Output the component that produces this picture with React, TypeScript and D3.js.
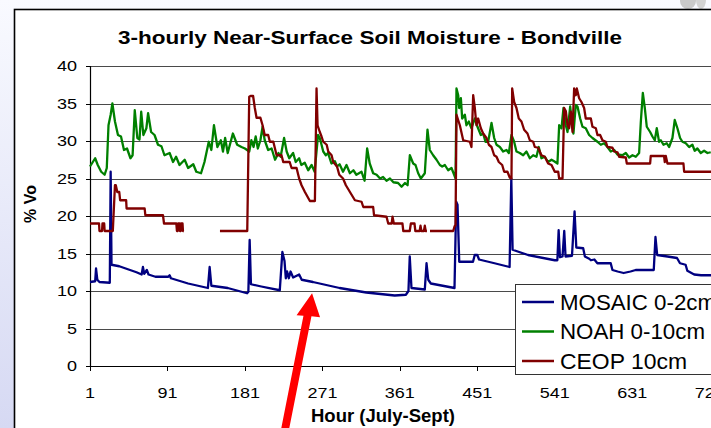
import React from 'react';
import * as d3 from 'd3';

// chart values (hour index, soil moisture %)
const hourTicks = [1, 91, 181, 271, 361, 451, 541, 631, 721];
const moistureTicks = [0, 5, 10, 15, 20, 25, 30, 35, 40];
const seriesNames = ['MOSAIC 0-2cm', 'NOAH 0-10cm', 'CEOP 10cm'];
const seriesColors = ['#000080', '#008000', '#800000'];

type Pt = [number, number | null];

const mosaic: Pt[] = [
  [1, 11.2], [7, 11.3], [8, 13.0], [9.5, 11.5], [12, 11.2], [24, 11.1], [25, 25.9], [26, 13.5],
  [35, 13.3], [45, 12.9], [55, 12.5], [61, 12.2], [62.5, 13.2], [64, 12.3], [67, 12.8], [69, 12.2],
  [77, 11.9], [92, 11.9], [93.5, 12.1], [95, 11.7], [115, 11.0], [138, 10.4], [140, 13.2], [142, 10.7],
  [161, 10.4], [183.5, 9.7], [185, 9.9], [186.5, 16.8], [188, 10.9], [200, 10.6], [221.5, 10.1],
  [224.5, 15.2], [227, 14.0], [228.5, 11.7], [230, 12.6], [232, 11.7], [234, 12.6], [237, 11.8],
  [244, 12.2], [247, 11.5], [260, 11.2], [291, 10.4], [322, 9.8], [355, 9.4], [368, 9.5], [371, 10.0],
  [372.5, 14.6], [374.5, 10.4], [390, 10.2], [392, 13.7], [394, 11.5], [397, 11.0], [424.5, 10.4],
  [426.5, 21.9], [428, 21.5], [430, 13.9], [446, 13.9], [448, 14.8], [451, 14.8], [453, 14.2],
  [471, 13.7], [488.5, 13.2], [490.5, 25.0], [492, 15.5], [510, 14.8], [541, 14.1], [544, 14.1],
  [545.5, 18.1], [547, 14.5], [550, 14.6], [552, 18.0], [553.5, 14.6], [561, 14.7], [564, 20.6],
  [566, 15.8], [574, 15.7], [576, 14.6], [581, 14.3], [583, 14.1], [587, 14.2], [590.5, 13.7],
  [606, 13.7], [608, 12.8], [614, 12.6], [621, 12.4], [629, 12.6], [635, 12.8], [656, 12.8],
  [658, 17.2], [660, 14.8], [672, 14.6], [683, 14.4], [686.5, 13.7], [693, 13.5], [695, 12.7],
  [703, 12.2], [711, 12.1], [726, 12.1],
];

const noah: Pt[] = [
  [1, 26.6], [7, 27.7], [10, 26.8], [14, 25.9], [18, 25.5], [20.5, 26.4], [22.5, 32.1], [25, 33.5],
  [27, 35.0], [30, 32.6], [33.5, 30.8], [37, 30.6], [40.5, 28.8], [44, 29.0], [48, 27.7], [50.5, 28.1],
  [53, 34.1], [56, 30.4], [58.5, 30.2], [60.5, 33.9], [63, 30.8], [66.5, 31.7], [68.5, 33.7], [72, 31.2],
  [76, 30.8], [80, 29.5], [84, 29.3], [87.5, 28.1], [93.5, 28.4], [97.5, 27.2], [101, 27.9], [105, 26.8],
  [111, 27.5], [115, 26.4], [121, 26.9], [124.5, 25.9], [130, 25.7], [134, 27.2], [139, 29.9],
  [142, 28.8], [145, 32.1], [149, 29.2], [153, 30.1], [155.5, 28.6], [158, 30.4], [161, 28.4],
  [167, 31.0], [172, 29.5], [177, 29.2], [181, 29.0], [186, 28.6], [188.5, 30.1], [191, 29.2],
  [193.5, 30.6], [196, 29.0], [199, 30.1], [201.5, 31.9], [204, 30.1], [208, 28.8], [212, 29.0],
  [216, 27.5], [220, 28.4], [222.5, 27.9], [226.5, 30.4], [229.5, 28.6], [232.5, 27.7], [237, 28.4],
  [240, 27.2], [244, 27.7], [246.5, 26.8], [250.5, 27.1], [254.5, 26.1], [258.5, 26.8], [262, 25.9],
  [266, 30.8], [268, 30.4], [272, 28.6], [275, 28.1], [277.5, 28.4], [281.5, 27.0], [285.5, 27.3],
  [288, 26.6], [291, 26.9], [295, 25.9], [299, 26.8], [303, 25.7], [307, 26.1], [310.5, 25.5],
  [316.5, 25.9], [320, 24.7], [323, 29.0], [326, 27.0], [330, 25.7], [334, 25.5], [338, 25.0],
  [341.5, 25.2], [345.5, 24.7], [349.5, 25.0], [353.5, 24.5], [359, 24.4], [363, 23.9], [367, 24.4],
  [370, 24.1], [372.6, 28.1], [376.5, 27.0], [379.2, 26.8], [382.3, 25.7], [385.4, 25.0], [390, 25.7],
  [393.1, 31.5], [395.8, 28.8], [399.7, 28.1], [403.6, 27.5], [407.5, 26.8], [410.2, 26.6],
  [413.3, 26.8], [417.1, 26.1], [421, 26.4], [424.1, 25.5], [425.7, 25.0], [426.8, 37.0],
  [428.8, 36.1], [429.9, 34.4], [431.9, 35.7], [433.4, 33.0], [436.5, 33.5], [438.4, 32.1],
  [441.1, 32.6], [444.2, 31.7], [448.1, 33.0], [451.2, 31.9], [455.1, 30.8], [457.8, 31.0],
  [460.5, 29.9], [463.6, 29.9], [467.5, 32.4], [470.6, 30.4], [473.3, 29.5], [477.2, 29.2],
  [481, 28.6], [484.9, 28.8], [487.6, 28.4], [490.7, 30.8], [493.8, 29.9], [496.5, 28.6],
  [500.4, 28.4], [504.3, 28.1], [508.1, 28.6], [512, 27.7], [515.9, 28.1], [519.7, 27.9],
  [522.4, 29.2], [525.5, 27.7], [529.4, 27.9], [533.3, 27.2], [537.2, 27.5], [540.3, 27.3],
  [544.1, 27.0], [546.1, 32.1], [548.8, 31.7], [551.1, 34.4], [553.8, 32.1], [555.8, 31.2],
  [558.9, 34.6], [560.4, 33.0], [562.7, 31.0], [565.4, 34.8], [567.4, 34.6], [570.5, 33.0],
  [573.2, 31.9], [577, 31.7], [580.9, 30.8], [584.8, 30.4], [590.6, 29.9], [594.5, 29.5],
  [598.3, 29.7], [602.2, 29.2], [606.1, 28.6], [610, 28.8], [613.8, 28.2], [619.6, 28.1],
  [623.5, 28.4], [627.4, 27.8], [631.3, 28.1], [635.1, 27.9], [639, 28.4], [641, 32.6],
  [643.3, 36.4], [645.6, 34.4], [647.9, 31.9], [651.8, 31.2], [654.5, 30.6], [657.2, 30.1],
  [659.5, 31.7], [662.2, 29.9], [664.2, 30.1], [667.3, 29.5], [671.1, 29.7], [673.8, 29.2],
  [677.7, 30.4], [680.4, 32.8], [683.5, 31.7], [686.6, 30.4], [689.3, 29.9], [693.2, 29.7],
  [697.1, 29.2], [700.9, 29.5], [703.6, 28.7], [706.7, 29.0], [710.6, 28.4], [714.5, 28.7],
  [718.4, 28.4], [722.2, 28.5],
];

const ceop: Pt[] = [
  [1, 19], [11.5, 19], [12, 18], [15, 18], [15.5, 19], [17.5, 19], [18, 18], [27.5, 18], [30, 24.1],
  [31, 24.1], [32.7, 23.2], [35, 23.2], [36, 22.1], [43, 22.1], [43.5, 21.0], [64.5, 21.0],
  [65.3, 20.1], [85.8, 20.1], [87, 19.0], [101.3, 19.0], [102, 18], [103, 18], [103.5, 19],
  [105, 19], [105.5, 18], [106.5, 18], [107, 19], [108.5, 19], [109, 18], [110, 18], [111, null],
  [152, 18], [183.7, 18], [186, 35.9], [187.5, 36], [190.5, 36], [192.5, 34.4], [194.5, 33.1],
  [199, 33.1], [201.5, 32.1], [204, 30.8], [208, 30.8], [210, 29.9], [214, 29.9], [217.8, 28.1],
  [223.5, 28.1], [225.5, 27.2], [233, 27.2], [235.2, 26.4], [241, 26.4], [244, 25.0], [246.8, 24.1],
  [250.7, 23.2], [256.5, 22.0], [262.3, 22.0], [264.2, 37.0], [265.4, 32.1], [268, 31.2],
  [270, 30.6], [272, 29.9], [276, 29.5], [277.8, 28.6], [281.7, 28.1], [283.6, 27.2], [288, 26.6],
  [290.6, 25.5], [295, 25.0], [298.3, 24.1], [303, 23.2], [308.8, 22.1], [316.5, 21.9],
  [318.5, 21.2], [330, 21.2], [331, 20.1], [345.5, 19.9], [347.5, 19.0], [351.5, 19.0],
  [352.5, 19.9], [354, 19.0], [364, 19.0], [365, 18], [372.5, 18], [373.8, 19], [378, 19],
  [379, 18], [384, 18], [385, 18.7], [386, 18], [389, 18], [390, 18.7], [391, 18], [392.5, 18],
  [393.5, null], [396, 18], [423, 18], [424.5, 18.6], [425.7, 18.8], [426.8, 33.5], [430.7, 32.1],
  [434.6, 30.1], [442.3, 29.9], [444.2, 29.2], [446.2, 36.1], [448.1, 34.4], [450, 32.1],
  [452, 33.0], [455.1, 31.7], [457.8, 31.0], [461.7, 30.4], [464.4, 29.5], [467.5, 29.2],
  [470.6, 28.1], [473.3, 27.9], [476, 27.2], [479.9, 26.8], [482.2, 25.9], [486, 25.9],
  [488.8, 25.1], [490.7, 25.0], [491.5, 37.0], [493.8, 35.2], [496.5, 34.4], [499.2, 33.0],
  [502.3, 32.6], [505.4, 31.5], [509.3, 31.0], [512, 30.1], [515.9, 29.9], [517.8, 29.2],
  [521.7, 29.1], [525.5, 28.1], [529.4, 27.9], [533.3, 27.0], [537.2, 26.8], [541, 25.9],
  [545, 25.9], [546.1, 25.0], [550, 25.0], [551.9, 34.4], [553.8, 34.0], [555.8, 32.1],
  [557.7, 31.7], [559.6, 33.9], [561.6, 31.2], [563.5, 37.0], [565.4, 36.1], [566.6, 37.0],
  [569.3, 35.7], [572, 35.2], [575.1, 34.4], [577, 33.0], [582.9, 33.0], [584.8, 31.9],
  [588.7, 31.7], [590.6, 30.8], [593.7, 30.8], [596.4, 30.1], [600.3, 29.9], [602.2, 29.2],
  [608, 29.1], [610, 28.6], [613.8, 28.5], [615.8, 27.9], [623.5, 27.8], [624.7, 27.0],
  [651.8, 27.0], [652.5, 28.0], [668, 28.0], [668.8, 27.2], [670, 28.0], [671.9, 27.0],
  [690.5, 27.0], [691.3, 25.9], [726, 25.9],
];

const allSeries = [mosaic, noah, ceop];

// red annotation arrow points at this spot on the MOSAIC line
const arrowTip = {hour: 259, value: 9.7};

const W = 711;
const H = 428;
const FONT = '"Liberation Sans", Arial, sans-serif';
// the slide picture is stretched sideways, so the text is a bit wider than the font
const STRETCH = 1.2;

export default function App() {
  const x = d3.scaleLinear().domain([1, 721]).range([90, 709.7]);
  const y = d3.scaleLinear().domain([0, 40]).range([366, 66]);

  const line = d3.line<Pt>()
    .defined(d => d[1] !== null)
    .x(d => x(d[0]))
    .y(d => y(d[1] as number));

  const tx = x(arrowTip.hour);
  const ty = y(arrowTip.value);
  const arrowPts = [[0, 0], [8, 24], [-0.6, 23], [-23, 136], [-31, 136], [-8.6, 22.5], [-15.5, 22]]
    .map(([dx, dy]) => `${tx + dx},${ty + dy}`).join(' ');

  const legendWidths = [156, 145, 127];

  return (
    <svg width={W} height={H} style={{position: 'absolute', left: 0, top: 0}} fontFamily={FONT}>
      <defs>
        <linearGradient id="slide" x1="0" y1="0" x2="0" y2="1">
          <stop offset="0" stopColor="#f9faff"/>
          <stop offset="1" stopColor="#d6d9f3"/>
        </linearGradient>
      </defs>
      <rect x={0} y={0} width={W} height={H} fill="url(#slide)"/>
      <ellipse cx={688} cy={1} rx={8} ry={8} fill="#cacaca"/>
      <ellipse cx={701} cy={0} rx={5} ry={9} fill="#d3d3d3"/>

      {/* chart frame */}
      <rect x={14.5} y={9.5} width={730} height={440} fill="#fff" stroke="#000" strokeWidth={1.6}/>

      <text x={118} y={43.5} fontWeight="bold" fontSize={18.5} textLength={504} lengthAdjust="spacingAndGlyphs">
        3-hourly Near-Surface Soil Moisture - Bondville
      </text>

      {/* grid */}
      {moistureTicks.filter(t => t > 0).map(t => (
        <line key={t} x1={90} x2={W + 20} y1={Math.round(y(t)) + 0.5} y2={Math.round(y(t)) + 0.5}
              stroke="#4a4a4a" strokeWidth={1}/>
      ))}
      {/* axes */}
      <line x1={90} x2={W + 20} y1={366.5} y2={366.5} stroke="#000" strokeWidth={1.2}/>
      <line x1={90.5} x2={90.5} y1={66} y2={367} stroke="#000" strokeWidth={1.2}/>
      {moistureTicks.map(t => (
        <g key={t}>
          <line x1={86} x2={90} y1={Math.round(y(t)) + 0.5} y2={Math.round(y(t)) + 0.5} stroke="#000"/>
          <text transform={`translate(77,${y(t)}) scale(${STRETCH},1)`} dy="0.36em" textAnchor="end"
                fontSize={15}>{t}</text>
        </g>
      ))}
      {hourTicks.map(t => (
        <g key={t}>
          <line x1={Math.round(x(t)) + 0.5} x2={Math.round(x(t)) + 0.5} y1={366} y2={371} stroke="#000"/>
          <text transform={`translate(${x(t)},398) scale(${STRETCH},1)`} textAnchor="middle"
                fontSize={15}>{t}</text>
        </g>
      ))}
      <text x={311} y={422} fontWeight="bold" fontSize={17.5} textLength={144} lengthAdjust="spacingAndGlyphs">
        Hour (July-Sept)
      </text>
      <text transform="translate(36,204) rotate(-90)" textAnchor="middle" fontWeight="bold" fontSize={16}>
        % Vo
      </text>

      {/* series */}
      {allSeries.map((s, i) => (
        <path key={i} d={line(s) ?? ''} fill="none" stroke={seriesColors[i]} strokeWidth={2.3}
              strokeLinejoin="round"/>
      ))}

      {/* legend */}
      <rect x={515.5} y={284.5} width={220} height={90} fill="#fff" stroke="#333" strokeWidth={1}/>
      {seriesNames.map((name, i) => (
        <g key={name} transform={`translate(0,${302 + i * 29.5})`}>
          <line x1={522} x2={554} y1={0} y2={0} stroke={seriesColors[i]} strokeWidth={2.5}/>
          <text x={560} y={0} dy="0.36em" fontSize={21.5} textLength={legendWidths[i]}
                lengthAdjust="spacingAndGlyphs">{name}</text>
        </g>
      ))}

      {/* annotation arrow */}
      <polygon points={arrowPts} fill="#ff0000"/>
    </svg>
  );
}
